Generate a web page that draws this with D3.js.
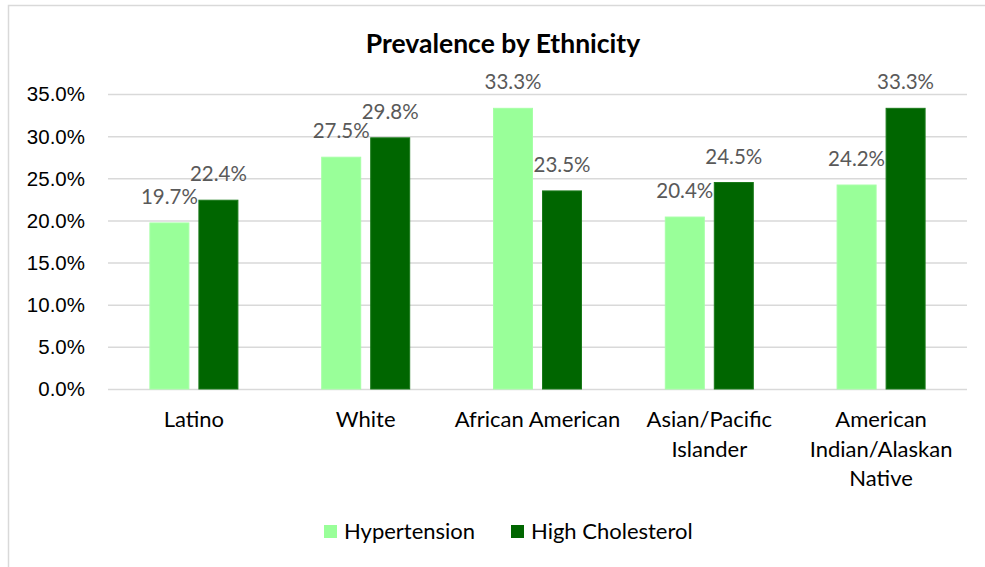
<!DOCTYPE html>
<html>
<head>
<meta charset="utf-8">
<script src="https://cdn.jsdelivr.net/npm/d3@7"></script>
<style>
  html, body { margin: 0; padding: 0; background: #fff; }
  svg { display: block; font-family: Lato, "Open Sans", sans-serif; }
</style>
</head>
<body>
<svg id="chart" width="985" height="567"></svg>
<script>
// Prevalence of hypertension and high cholesterol by ethnicity
const categories = ["Latino", "White", "African American", "Asian/Pacific Islander", "American Indian/Alaskan Native"];
const categoryLines = [["Latino"], ["White"], ["African American"], ["Asian/Pacific", "Islander"], ["American", "Indian/Alaskan", "Native"]];
const seriesNames = ["Hypertension", "High Cholesterol"];
const hypertension = [19.7, 27.5, 33.3, 20.4, 24.2];
const highCholesterol = [22.4, 29.8, 23.5, 24.5, 33.3];
const yTicks = [0, 5, 10, 15, 20, 25, 30, 35];
const colors = ["#99ff99", "#006600"];

const svg = d3.select("#chart");
const W = 985, H = 567;
const plot = { left: 108, right: 967, top: 94, bottom: 389 };
const numSize = 20.5, wordSize = 22;

// chart frame
svg.append("rect")
  .attr("x", 8.5).attr("y", 5.5)
  .attr("width", W + 10).attr("height", H + 10)
  .attr("fill", "#fff").attr("stroke", "#d9d9d9").attr("stroke-width", 1.5);

const x0 = d3.scaleBand().domain(categories).range([plot.left, plot.right]).paddingInner(0).paddingOuter(0);
const barW = 39, gap = 10;
const y = d3.scaleLinear().domain([0, 35]).range([plot.bottom, plot.top]);

// gridlines + y axis labels
const yAxis = d3.axisLeft(y).tickValues(yTicks)
  .tickSize(-(plot.right - plot.left)).tickPadding(23)
  .tickFormat(d => d.toFixed(1) + "%");
const gy = svg.append("g").attr("transform", `translate(${plot.left},0)`).call(yAxis);
gy.select(".domain").remove();
gy.selectAll(".tick line").attr("stroke", "#d9d9d9").attr("stroke-width", 1.5);
gy.selectAll(".tick text").attr("fill", "#000").attr("font-size", numSize).attr("dy", "0.34em");

// bars
const data = categories.map((c, i) => ({ c, i, vals: [hypertension[i], highCholesterol[i]] }));
const groups = svg.append("g").selectAll("g").data(data).join("g");
groups.each(function(d) {
  const cx = x0(d.c) + x0.bandwidth() / 2;
  const g = d3.select(this);
  d.vals.forEach((v, k) => {
    const bx = k === 0 ? cx - gap / 2 - barW : cx + gap / 2;
    g.append("rect")
      .attr("x", bx).attr("y", y(v))
      .attr("width", barW).attr("height", y(0) - y(v))
      .attr("fill", colors[k])
      .attr("stroke", k === 0 ? "#a6ffa6" : "#1a7a1a").attr("stroke-width", 1);
    g.append("text")
      .attr("x", bx + barW / 2).attr("y", y(v) - 19)
      .attr("text-anchor", "middle")
      .attr("fill", "#595959").attr("font-size", numSize)
      .text(v.toFixed(1) + "%");
  });
});

// category labels
const catG = svg.append("g");
categories.forEach((c, i) => {
  const cx = x0(c) + x0.bandwidth() / 2;
  const t = catG.append("text").attr("text-anchor", "middle").attr("fill", "#000").attr("font-size", wordSize);
  categoryLines[i].forEach((line, j) => {
    t.append("tspan").attr("x", cx).attr("y", 427 + j * 29.5).text(line);
  });
});

// title
svg.append("text")
  .attr("x", 503).attr("y", 53)
  .attr("text-anchor", "middle")
  .attr("font-weight", "bold").attr("font-size", 26.5).attr("fill", "#000")
  .text("Prevalence by Ethnicity");

// legend
const legendItems = [
  { name: seriesNames[0], color: colors[0], x: 324 },
  { name: seriesNames[1], color: colors[1], x: 511 }
];
const lg = svg.append("g");
legendItems.forEach(it => {
  lg.append("rect").attr("x", it.x).attr("y", 525).attr("width", 13).attr("height", 13).attr("fill", it.color);
  lg.append("text").attr("x", it.x + 20).attr("y", 539).attr("font-size", wordSize).attr("fill", "#000").text(it.name);
});
</script>
</body>
</html>
